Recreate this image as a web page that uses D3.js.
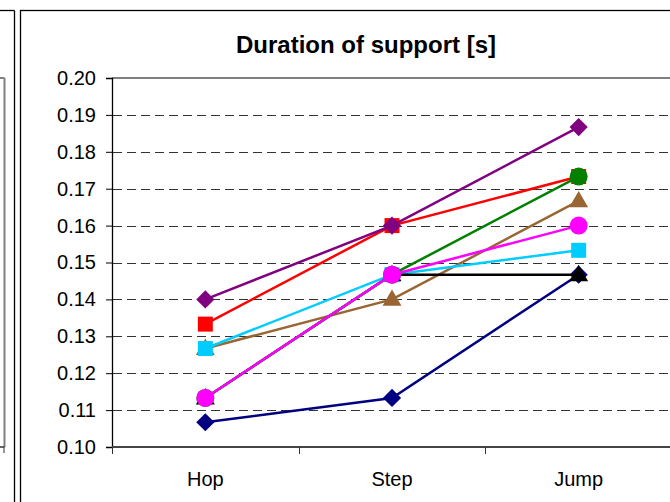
<!DOCTYPE html>
<html><head><meta charset="utf-8">
<script src="https://cdn.jsdelivr.net/npm/d3@7"></script>
<style>
html,body{margin:0;padding:0;background:#fff;overflow:hidden}
text{font-family:"Liberation Sans",Arial,sans-serif}
</style></head>
<body><svg id="c" width="670" height="502"></svg>
<script>
const categories = ["Hop", "Step", "Jump"];
const yTicks = [0.10, 0.11, 0.12, 0.13, 0.14, 0.15, 0.16, 0.17, 0.18, 0.19, 0.20];
const title = "Duration of support [s]";
// series in drawing order
const seriesNames = ["s1", "s2", "s3", "s4", "s5", "s6", "s7", "s8"];
const s1 = [0.1067, 0.1133, 0.1467]; // navy diamond
const s2 = [0.1333, 0.1600, 0.1733]; // red square
const s3 = [0.1267, 0.1400, 0.1667]; // brown triangle
const s4 = [0.1267, 0.1467, 0.1533]; // cyan square
const s5 = [0.1133, 0.1467, 0.1467]; // black triangle
const s6 = [0.1133, 0.1467, 0.1733]; // green circle
const s7 = [0.1133, 0.1467, 0.1600]; // magenta circle
const s8 = [0.1400, 0.1600, 0.1867]; // purple diamond
const seriesValues = [s1, s2, s3, s4, s5, s6, s7, s8];
const seriesColors = ["#000080", "#FF0000", "#996633", "#00CCFF", "#000000", "#008000", "#FF00FF", "#800080"];
const seriesShapes = ["diamond", "square", "triangle", "square", "triangle", "circle", "circle", "diamond"];

const svg = d3.select("#c");
const L = 112, R = 672, T = 78, B = 447;
const x = d3.scaleBand().domain(categories).range([L, R]).padding(0);
const y = d3.scaleLinear().domain([0.10, 0.20]).range([B, T]);

// left neighbouring chart remnants
svg.append("line").attr("x1", 0).attr("x2", 14.5).attr("y1", 10.5).attr("y2", 10.5).attr("stroke", "#000").attr("stroke-width", 1.3);
svg.append("line").attr("x1", 14.5).attr("x2", 14.5).attr("y1", 10.5).attr("y2", 502).attr("stroke", "#000").attr("stroke-width", 1.3);
svg.append("line").attr("x1", 0).attr("x2", 4.5).attr("y1", T).attr("y2", T).attr("stroke", "#808080").attr("stroke-width", 2);
svg.append("line").attr("x1", 4.5).attr("x2", 4.5).attr("y1", T).attr("y2", B).attr("stroke", "#808080").attr("stroke-width", 2);
svg.append("line").attr("x1", 0).attr("x2", 4.5).attr("y1", B).attr("y2", B).attr("stroke", "#333").attr("stroke-width", 1.5);
svg.append("line").attr("x1", 4).attr("x2", 4).attr("y1", B).attr("y2", B + 6).attr("stroke", "#333").attr("stroke-width", 1);

// main frame
svg.append("rect").attr("x", 20.5).attr("y", 10.5).attr("width", 700).attr("height", 520)
  .attr("fill", "none").attr("stroke", "#000").attr("stroke-width", 1.3);

// plot area top border
svg.append("line").attr("x1", L).attr("x2", 670).attr("y1", T).attr("y2", T).attr("stroke", "#808080").attr("stroke-width", 2);

// gridlines
svg.append("g").selectAll("line").data(yTicks.filter(v => v > 0.1 && v < 0.2)).join("line")
  .attr("x1", L + 1).attr("x2", R).attr("y1", d => Math.round(y(d)) + 0.5).attr("y2", d => Math.round(y(d)) + 0.5)
  .attr("stroke", "#333").attr("stroke-width", 1.1).attr("stroke-dasharray", "9,5");

// y axis
const ya = svg.append("g").attr("transform", `translate(${L},0)`)
  .call(d3.axisLeft(y).tickValues(yTicks).tickFormat(d3.format(".2f")).tickSize(6).tickPadding(10));
ya.select(".domain").attr("stroke", "#000").attr("stroke-width", 1.3);
ya.selectAll(".tick line").attr("stroke", "#000");
ya.selectAll("text").attr("font-size", 20).attr("fill", "#000").style("font-family", '"Liberation Sans",Arial,sans-serif');

// x axis
svg.append("line").attr("x1", L).attr("x2", 670).attr("y1", B).attr("y2", B).attr("stroke", "#444").attr("stroke-width", 2);
const bounds = categories.map(c => x(c)).concat([x(categories[categories.length - 1]) + x.bandwidth()]);
svg.append("g").selectAll("line").data(bounds).join("line")
  .attr("x1", d => Math.round(d) + 0.5).attr("x2", d => Math.round(d) + 0.5).attr("y1", B).attr("y2", B + 7)
  .attr("stroke", "#333").attr("stroke-width", 1);
svg.append("g").selectAll("text").data(categories).join("text")
  .attr("x", d => x(d) + x.bandwidth() / 2).attr("y", 486)
  .attr("text-anchor", "middle").attr("font-size", 20).attr("fill", "#000").text(d => d);

// title
svg.append("text").attr("x", 366).attr("y", 53).attr("text-anchor", "middle")
  .attr("font-size", 24).attr("font-weight", "bold").attr("fill", "#000").text(title);

// series
const cx = c => x(c) + x.bandwidth() / 2;
const line = d3.line().x((d, i) => cx(categories[i])).y(d => y(d));
seriesValues.forEach((vals, k) => {
  const g = svg.append("g");
  g.append("path").attr("d", line(vals)).attr("fill", "none").attr("stroke", seriesColors[k]).attr("stroke-width", 2.5);
  const shape = seriesShapes[k];
  const sym = shape === "diamond" ? d3.symbol().type(d3.symbolSquare).size(165)
    : shape === "square" ? d3.symbol().type(d3.symbolSquare).size(225)
    : shape === "triangle" ? d3.symbol().type(d3.symbolTriangle).size(155)
    : d3.symbol().type(d3.symbolCircle).size(255);
  g.selectAll("path.m").data(vals).join("path").attr("class", "m")
    .attr("d", sym())
    .attr("transform", (d, i) => `translate(${cx(categories[i])},${y(d) + (shape === "triangle" ? 1 : 0)})` + (shape === "diamond" ? " rotate(45)" : ""))
    .attr("fill", seriesColors[k]);
});
</script></body></html>
